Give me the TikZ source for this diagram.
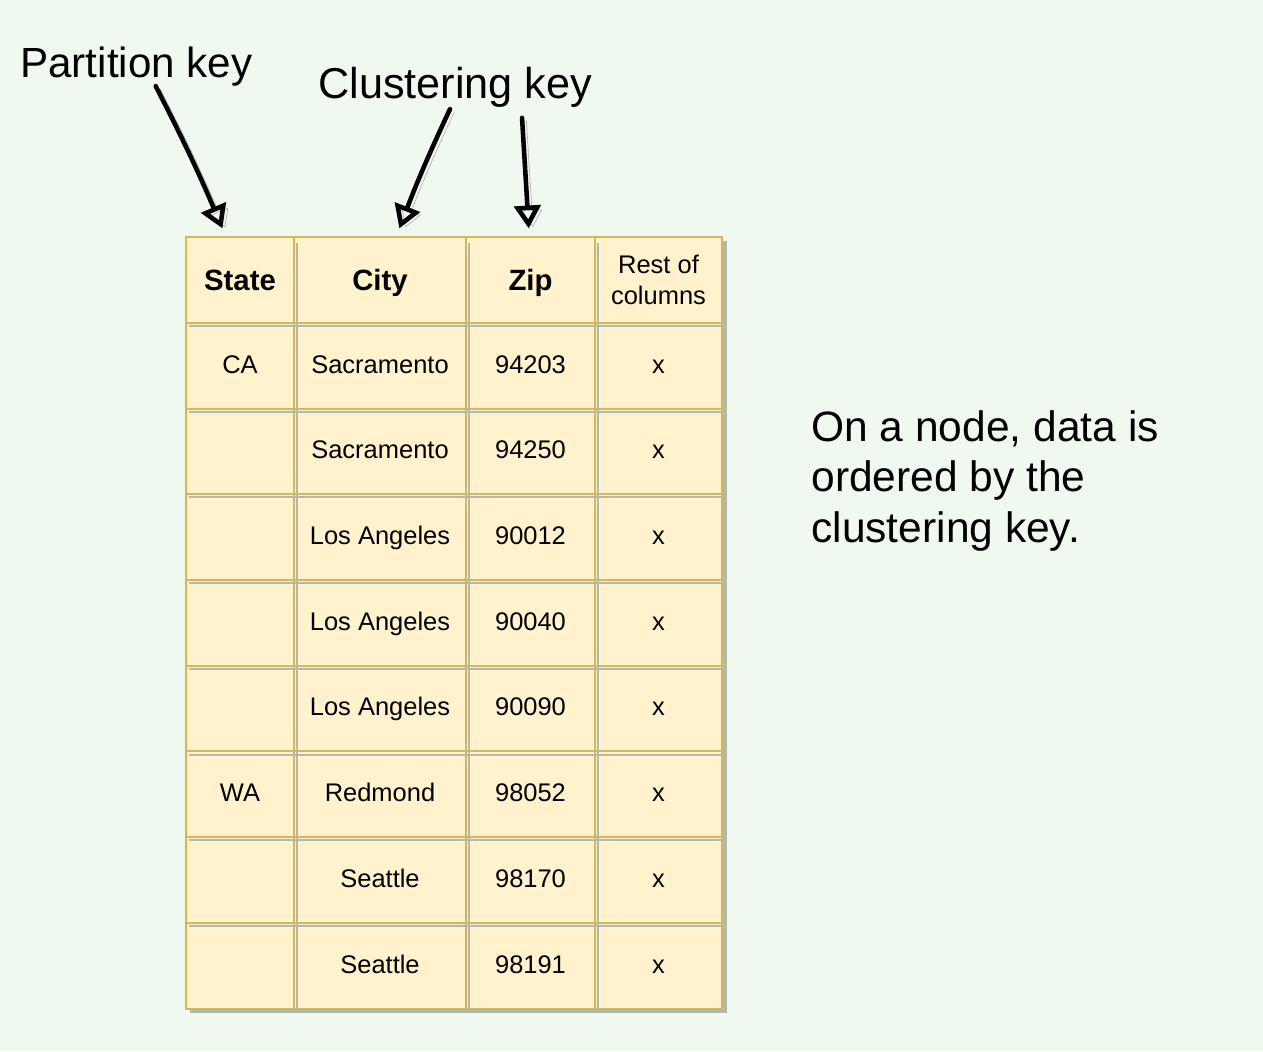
\documentclass[tikz,border=0pt]{standalone}
\usepackage{fontspec}
\setmainfont{Liberation Sans}
\usetikzlibrary{arrows.meta,positioning}
\definecolor{bgcol}{HTML}{F0F9EF}
\definecolor{cellfill}{HTML}{FFF2CC}
\definecolor{cellline}{HTML}{D6B656}
\definecolor{shadowcol}{HTML}{B2B7AF}
\tikzstyle{cell}     = [draw=cellline, fill=cellfill, line width=1.1pt, inner sep=0pt, outer sep=0pt, minimum height=1.714cm, align=center, text height=12pt, text depth=3.6pt, font=\fontsize{14.5pt}{18pt}\selectfont]
\tikzstyle{head}     = [cell, text height=14pt, text depth=2pt, font=\fontsize{16.7pt}{20pt}\selectfont\bfseries]
\tikzstyle{colstate} = [minimum width=2.16cm]
\tikzstyle{colcity}  = [minimum width=3.44cm]
\tikzstyle{colzip}   = [minimum width=2.58cm]
\tikzstyle{colrest}  = [minimum width=2.54cm]
\tikzstyle{gridshade}= [draw=shadowcol, line width=1.1pt]
\tikzstyle{keyarrow} = [line width=2.6pt, line cap=round, line join=round, -{Triangle[open,length=13pt,width=15pt]}, preaction={draw=shadowcol, transform canvas={xshift=2.5pt,yshift=-1.5pt}}]

\begin{document}
\begin{tikzpicture}[x=0.02cm, y=-0.02cm]
		\useasboundingbox (0,0) rectangle (1263,1051);
		\fill[bgcol] (0,0) rectangle (1263,1051);

		% table shadow
		\fill[shadowcol] (190,241) rectangle (727,1013);

		% header row
		\node[head, colstate] (state0) at (240,280) {State};
		\node[head, colcity]  (city0)  at (380,280) {City};
		\node[head, colzip]   (zip0)   at (530.5,280) {Zip};
		\node[cell, colrest, text height={}, text depth={}] (rest0) at (658.5,280) {Rest of\\columns};

		% rows
		\node[cell, colstate] (state1) at (240,365.7) {CA};
		\node[cell, colcity]  (city1)  at (380,365.7) {Sacramento};
		\node[cell, colzip]   (zip1)   at (530.5,365.7) {94203};
		\node[cell, colrest]  (rest1)  at (658.5,365.7) {x};

		\node[cell, colstate] (state2) at (240,451.4) {};
		\node[cell, colcity]  (city2)  at (380,451.4) {Sacramento};
		\node[cell, colzip]   (zip2)   at (530.5,451.4) {94250};
		\node[cell, colrest]  (rest2)  at (658.5,451.4) {x};

		\node[cell, colstate] (state3) at (240,537.1) {};
		\node[cell, colcity]  (city3)  at (380,537.1) {Los Angeles};
		\node[cell, colzip]   (zip3)   at (530.5,537.1) {90012};
		\node[cell, colrest]  (rest3)  at (658.5,537.1) {x};

		\node[cell, colstate] (state4) at (240,622.9) {};
		\node[cell, colcity]  (city4)  at (380,622.9) {Los Angeles};
		\node[cell, colzip]   (zip4)   at (530.5,622.9) {90040};
		\node[cell, colrest]  (rest4)  at (658.5,622.9) {x};

		\node[cell, colstate] (state5) at (240,708.6) {};
		\node[cell, colcity]  (city5)  at (380,708.6) {Los Angeles};
		\node[cell, colzip]   (zip5)   at (530.5,708.6) {90090};
		\node[cell, colrest]  (rest5)  at (658.5,708.6) {x};

		\node[cell, colstate] (state6) at (240,794.3) {WA};
		\node[cell, colcity]  (city6)  at (380,794.3) {Redmond};
		\node[cell, colzip]   (zip6)   at (530.5,794.3) {98052};
		\node[cell, colrest]  (rest6)  at (658.5,794.3) {x};

		\node[cell, colstate] (state7) at (240,880) {};
		\node[cell, colcity]  (city7)  at (380,880) {Seattle};
		\node[cell, colzip]   (zip7)   at (530.5,880) {98170};
		\node[cell, colrest]  (rest7)  at (658.5,880) {x};

		\node[cell, colstate] (state8) at (240,965.7) {};
		\node[cell, colcity]  (city8)  at (380,965.7) {Seattle};
		\node[cell, colzip]   (zip8)   at (530.5,965.7) {98191};
		\node[cell, colrest]  (rest8)  at (658.5,965.7) {x};

		% cell shadows inside the table
		\draw[gridshade] (189,326) -- (727,326);
		\draw[gridshade] (189,412) -- (727,412);
		\draw[gridshade] (189,497) -- (727,497);
		\draw[gridshade] (189,583) -- (727,583);
		\draw[gridshade] (189,669) -- (727,669);
		\draw[gridshade] (189,755) -- (727,755);
		\draw[gridshade] (189,840) -- (727,840);
		\draw[gridshade] (189,926) -- (727,926);
		\draw[gridshade] (297,243) -- (297,1013);
		\draw[gridshade] (469,243) -- (469,1013);
		\draw[gridshade] (598,243) -- (598,1013);

		% labels
		\node[inner sep=0pt, anchor=base west, font=\fontsize{24pt}{29pt}\selectfont] (pkey) at (20,77) {Partition key};
		\node[inner sep=0pt, anchor=base west, font=\fontsize{24.6pt}{30pt}\selectfont] (ckey) at (318,98) {Clustering key};
		\node[inner sep=0pt, anchor=west, align=left, font=\fontsize{24.2pt}{29pt}\selectfont] (note) at (811,481) {On a node, data is\\ordered by the\\clustering key.};

		\draw[keyarrow] ([xshift=11pt]pkey.south) to[bend left=2] ([xshift=-10pt,yshift=5pt]state0.north);
		\draw[keyarrow] ([xshift=-3pt,yshift=-1pt]ckey.south) to[bend right=2] ([xshift=11pt,yshift=5pt]city0.north);
		\draw[keyarrow] ([xshift=38pt,yshift=-6pt]ckey.south) -- ([xshift=-1pt,yshift=5pt]zip0.north);
	\end{tikzpicture}
\end{document}
